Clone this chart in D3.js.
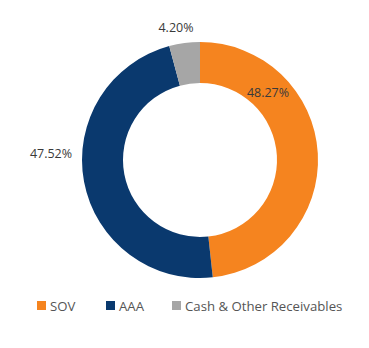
<!DOCTYPE html>
<html><head><meta charset="utf-8">
<script src="https://cdn.jsdelivr.net/npm/d3@7"></script>
<style>body{margin:0;background:#fff}svg{display:block}text{font-family:"Open Sans",sans-serif}</style>
</head><body><svg id="c" width="369" height="348"></svg>
<script>
const categories = ["SOV", "AAA", "Cash & Other Receivables"];
const values = [48.27, 47.52, 4.20];
const labels = ["48.27%", "47.52%", "4.20%"];
const colors = ["#F5841F", "#0A396E", "#A6A6A6"];

const svg = d3.select("#c");
const cx = 200, cy = 160, R = 118, r = 77;
const pie = d3.pie().sort(null).value(d => d)(values);
const arc = d3.arc().innerRadius(r).outerRadius(R);
const g = svg.append("g").attr("transform", `translate(${cx},${cy})`);
g.selectAll("path").data(pie).join("path")
  .attr("d", arc).attr("fill", (d, i) => colors[i]);

// label positions: matched to reference placement
const labelPos = [[268, 97], [51, 158], [176, 32]];
svg.selectAll("text.lbl").data(labels).join("text").attr("class", "lbl")
  .attr("x", (d, i) => labelPos[i][0]).attr("y", (d, i) => labelPos[i][1])
  .attr("text-anchor", "middle").attr("font-size", 12.5).attr("fill", "#3a3a3a")
  .text(d => d);

const legX = [37, 106, 172];
const lg = svg.selectAll("g.leg").data(categories).join("g").attr("class", "leg")
  .attr("transform", (d, i) => `translate(${legX[i]},301)`);
lg.append("rect").attr("width", 9).attr("height", 9).attr("fill", (d, i) => colors[i]);
lg.append("text").attr("x", 13).attr("y", 9.5).attr("font-size", 13.2).attr("fill", "#555").text(d => d);
</script></body></html>
